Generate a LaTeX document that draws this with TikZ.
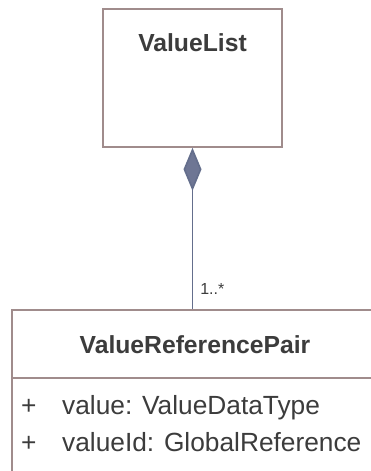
\documentclass[tikz,border=0pt]{standalone}
\usepackage{fontspec}
\setmainfont{Liberation Sans}
\usetikzlibrary{arrows.meta,positioning,calc}
\definecolor{Cborder}{RGB}{160,140,140}
\definecolor{Cline}{RGB}{100,110,140}
\definecolor{Cfill}{RGB}{110,118,148}
\definecolor{Ctext}{RGB}{60,60,60}
\tikzset{
    cbox/.style={
        rectangle, draw=Cborder, line width=1.6pt, fill=white,
        inner sep=0pt
    },
    ctitle/.style={
        font=\fontsize{24.7}{28}\selectfont\bfseries, text=Ctext, inner sep=0pt
    },
    cattr/.style={
        font=\fontsize{26.3}{30}\selectfont, text=Ctext, inner sep=0pt, anchor=base west
    },
    cmult/.style={
        font=\fontsize{16}{18}\selectfont, text=Ctext, inner sep=0pt
    },
    ccomp/.style={
        Cline, line width=1.7pt,
        -{Diamond[length=43pt, width=18pt, fill=Cfill]}
    },
}

\begin{document}
\begin{tikzpicture}[x=1pt, y=-1pt]

    \useasboundingbox (0,0) rectangle (371,471);
    \clip (0,0) rectangle (371,471);

    % whole part
    \node [cbox, minimum width=179pt, minimum height=138pt]
        (vlist) at (192.5,78) {};
    \node [ctitle, anchor=base] (vlisttitle) at ($(vlist.north)+(0,43)$) {ValueList};

    % part class, runs off the page
    \node [cbox, anchor=north west, minimum width=369pt, minimum height=220pt]
        (vpair) at (11,309) {};
    \node [ctitle, anchor=base] (vpairtitle) at (195,353) {ValueReferencePair};
    \draw [Cborder, line width=1.6pt] (vpair.west |- 0,378) -- (vpair.east |- 0,378);

    \node [cattr] (plusa) at (21,414) {+};
    \node [cattr] (attra) at (62,414) {value: ValueDataType};
    \node [cattr] (plusb) at (21,451) {+};
    \node [cattr] (attrb) at (62,451) {valueId: GlobalReference};

    % composition
    \draw [ccomp] (vlist.south |- vpair.north)
        -- node[cmult, at start, anchor=base west, xshift=7pt, yshift=15pt] (mult) {1..*}
        (vlist.south);

\end{tikzpicture}
\end{document}
